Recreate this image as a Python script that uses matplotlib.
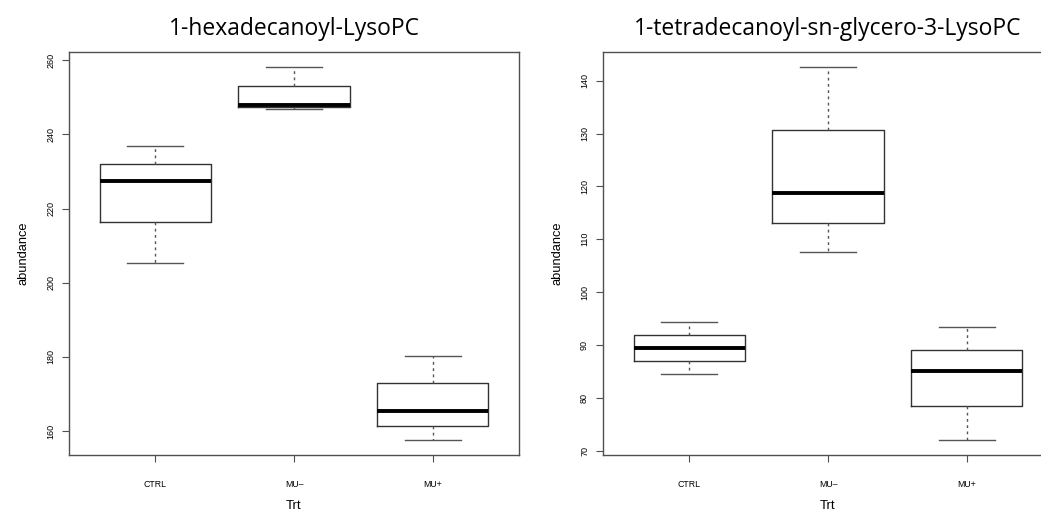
import matplotlib.pyplot as plt

groups = ['CTRL', 'MU\u2013', 'MU+']

# five-number summaries: low whisker, Q1, median, Q3, high whisker
hexa_stats = [
    [205.3, 216.3, 227.4, 232.1, 236.8],
    [246.8, 247.4, 248.0, 253.1, 258.2],
    [157.6, 161.5, 165.5, 172.9, 180.3],
]
tetra_stats = [
    [84.5, 86.9, 89.4, 91.8, 94.3],
    [107.5, 113.1, 118.8, 130.7, 142.6],
    [72.0, 78.5, 85.1, 89.1, 93.4],
]
hexa_ticks = [160, 180, 200, 220, 240, 260]
tetra_ticks = [70, 80, 90, 100, 110, 120, 130, 140]

titles = ['1-hexadecanoyl-LysoPC', '1-tetradecanoyl-sn-glycero-3-LysoPC']

W, H = 1041, 514
fig = plt.figure(figsize=(W / 100, H / 100), dpi=100)

frame_col = '#505050'


def draw_panel(left_px, stats, yticks, title):
    ax = fig.add_axes([left_px / W, 1 - 455 / H, 450 / W, (455 - 52) / H])
    bxp_stats = [
        dict(whislo=s[0], q1=s[1], med=s[2], q3=s[3], whishi=s[4], fliers=[], label=g)
        for s, g in zip(stats, groups)
    ]
    ax.bxp(bxp_stats, positions=[1, 2, 3], widths=0.8, showfliers=False,
           boxprops=dict(color='#333333', lw=1.0),
           medianprops=dict(color='black', lw=2.8, solid_capstyle='butt'),
           whiskerprops=dict(color='#555555', lw=1.0, ls=(0, (2, 2.5))),
           capprops=dict(color='#555555', lw=1.0), capwidths=0.4)
    # R-style 4% padding around the data range
    lo = min(s[0] for s in stats)
    hi = max(s[4] for s in stats)
    pad = 0.04 * (hi - lo)
    ax.set_ylim(lo - pad, hi + pad)
    ax.set_xlim(0.38, 3.62)
    ax.set_yticks(yticks)
    ax.set_yticklabels([str(t) for t in yticks], rotation=90, va='center', fontsize=6.5,
                       family='Liberation Sans')
    ax.set_xticks([1, 2, 3])
    ax.set_xticklabels(groups, fontsize=6.3, family='Liberation Sans')
    ax.tick_params(axis='y', length=5, width=0.8, color=frame_col, pad=5)
    ax.tick_params(axis='x', length=5, width=0.8, color=frame_col, pad=13)
    for sp in ax.spines.values():
        sp.set_color(frame_col)
        sp.set_linewidth(1.0)
    ax.set_ylabel('abundance', fontsize=9.3, family='Liberation Sans', labelpad=12)
    ax.set_xlabel('Trt', fontsize=9.5, family='Liberation Sans', labelpad=8)
    ax.set_title(title, fontsize=16.5, family='Open Sans', pad=12)
    return ax


draw_panel(69, hexa_stats, hexa_ticks, titles[0])
draw_panel(603, tetra_stats, tetra_ticks, titles[1])

fig.savefig('out.png', dpi=100, facecolor='white')
